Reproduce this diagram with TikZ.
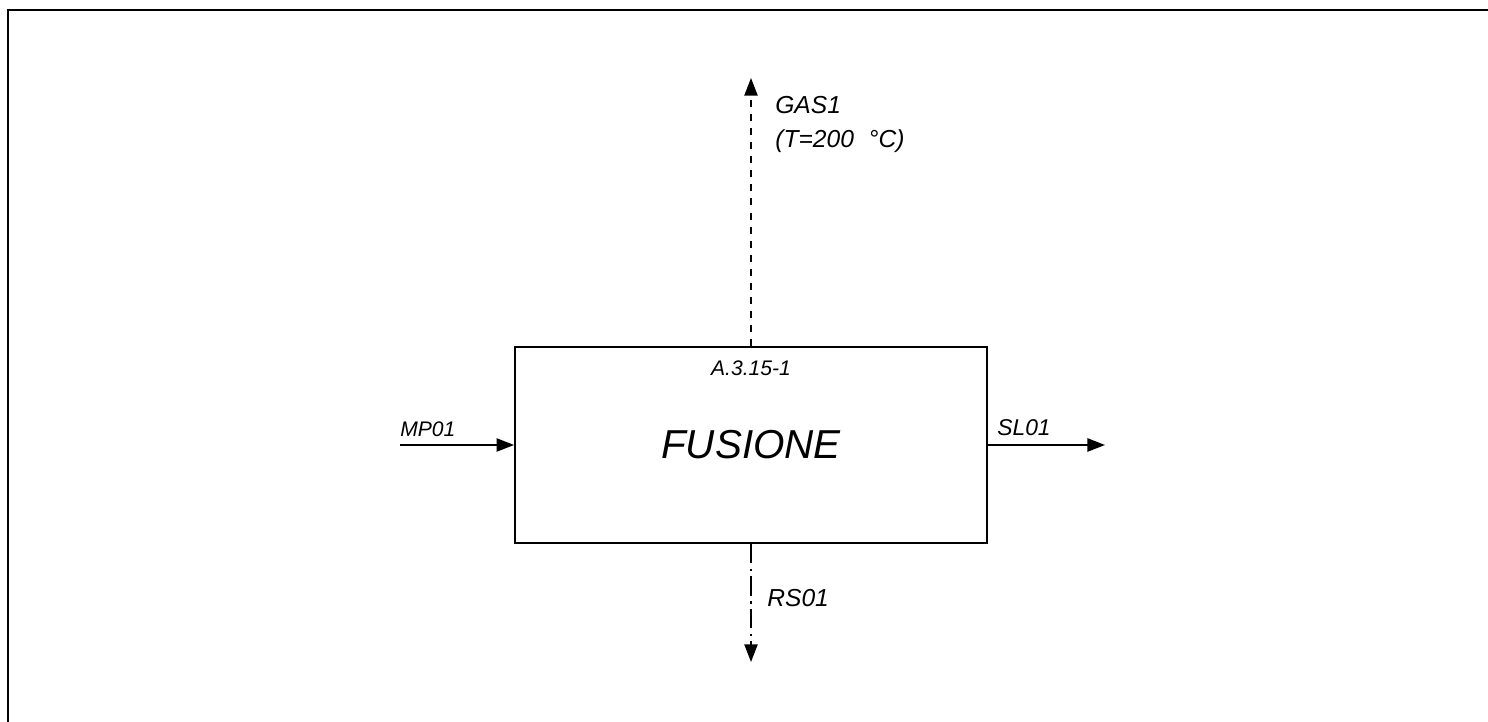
\documentclass[tikz,border=0pt]{standalone}
\usepackage{fontspec}
\setmainfont{Liberation Sans}
\usetikzlibrary{arrows.meta,positioning}

\begin{document}
\begin{tikzpicture}[x=0.02cm,y=-0.02cm,
  flow/.style={line width=1.1pt,-{Triangle[length=10pt,width=7.5pt]}},
  lbl/.style={font=\itshape\fontsize{14}{17}\selectfont,inner sep=0pt,anchor=base west},
  small/.style={font=\itshape\fontsize{12}{14}\selectfont,inner sep=0pt}]
  \useasboundingbox (0,0) rectangle (1488,722);

  % cornice
  \draw[line width=1.4pt] (8,722) -- (8,10) -- (1488,10);

  % blocco
  \node[draw,line width=1.1pt,minimum width=9.44cm,minimum height=3.92cm,inner sep=0pt,
        font=\itshape\fontsize{23}{27}\selectfont] (fus) at (751,445) {FUSIONE};
  \node[small,anchor=north] (code) at ([yshift=-8pt]fus.north) {A.3.15-1};

  \coordinate (gas) at (751,78);
  \coordinate (rs) at (751,662);
  \coordinate (mp) at (400,445);
  \coordinate (sl) at (1105,445);

  % correnti
  \draw[flow,line width=0.9pt,dash pattern=on 4pt off 4pt] (fus.north) -- (gas);
  \draw[flow,line width=0.9pt,dash pattern=on 11pt off 3pt on 1.5pt off 3pt] (fus.south) -- (rs);
  \draw[flow] (mp) -- (fus.west);
  \draw[flow] (fus.east) -- (sl);

  \node[lbl] (gasname) at (775,114) {GAS1};
  \node[lbl] (gastemp) at (775,148) {(T=200\hspace{0.6em}°C)};
  \node[lbl] (rsname) at (767,607) {RS01};
  \node[small,anchor=base west] (mpname) at (400,437) {MP01};
  \node[small,anchor=base west,font=\itshape\fontsize{13}{15}\selectfont] (slname) at (997,436) {SL01};
\end{tikzpicture}
\end{document}
